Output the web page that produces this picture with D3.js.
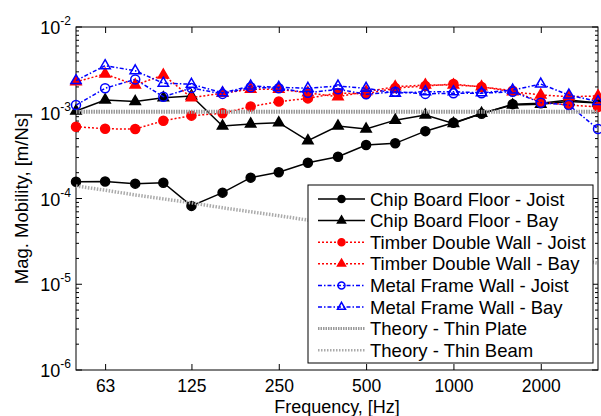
<!DOCTYPE html>
<html>
<head>
<meta charset="utf-8">
<script src="https://cdn.jsdelivr.net/npm/d3@7"></script>
<style>
  body { margin: 0; background: #fff; }
  text { font-family: "Liberation Sans", Arial, sans-serif; fill: #000; }
</style>
</head>
<body>
<div id="chart"></div>
<script>
// 1/3 octave band centre frequencies, Hz
const freqs = [50, 63, 80, 100, 125, 160, 200, 250, 315, 400, 500, 630, 800, 1000, 1250, 1600, 2000, 2500, 3150];

// mobility magnitudes, m/Ns
const chipJoist   = [1.57e-4, 1.58e-4, 1.49e-4, 1.53e-4, 8.2e-5, 1.17e-4, 1.75e-4, 2.02e-4, 2.61e-4, 3.07e-4, 4.2e-4, 4.4e-4, 6.1e-4, 7.65e-4, 9.75e-4, 1.26e-3, 1.29e-3, 1.41e-3, 1.30e-3];
const chipBay     = [1.05e-3, 1.41e-3, 1.35e-3, 1.50e-3, 1.57e-3, 7.0e-4, 7.4e-4, 7.65e-4, 4.72e-4, 7.0e-4, 6.46e-4, 8.2e-4, 9.4e-4, 7.5e-4, 9.86e-4, 1.23e-3, 1.26e-3, 1.35e-3, 1.30e-3];
const timberJoist = [6.88e-4, 6.5e-4, 6.46e-4, 8.07e-4, 9.25e-4, 9.86e-4, 1.18e-3, 1.35e-3, 1.47e-3, 1.70e-3, 1.66e-3, 1.94e-3, 2.05e-3, 2.16e-3, 2.0e-3, 1.81e-3, 1.33e-3, 1.23e-3, 1.17e-3];
const timberBay   = [2.30e-3, 2.83e-3, 2.11e-3, 2.75e-3, 1.50e-3, 1.69e-3, 1.88e-3, 1.88e-3, 1.71e-3, 1.54e-3, 1.76e-3, 2.01e-3, 2.11e-3, 2.11e-3, 2.01e-3, 1.76e-3, 1.61e-3, 1.54e-3, 1.57e-3];
const metalJoist  = [1.23e-3, 1.93e-3, 2.45e-3, 1.54e-3, 1.94e-3, 1.66e-3, 1.98e-3, 1.93e-3, 1.71e-3, 1.88e-3, 1.64e-3, 1.76e-3, 1.66e-3, 1.69e-3, 1.69e-3, 1.76e-3, 1.31e-3, 1.23e-3, 6.46e-4];
const metalBay    = [2.37e-3, 3.54e-3, 3.09e-3, 2.21e-3, 2.15e-3, 1.71e-3, 2.05e-3, 1.98e-3, 1.93e-3, 2.05e-3, 1.93e-3, 1.69e-3, 1.76e-3, 1.76e-3, 1.71e-3, 1.84e-3, 2.16e-3, 1.61e-3, 1.35e-3];
const thinPlate   = [1.03e-3, 1.03e-3, 1.03e-3, 1.03e-3, 1.03e-3, 1.03e-3, 1.03e-3, 1.03e-3, 1.03e-3, 1.03e-3, 1.03e-3, 1.03e-3, 1.03e-3, 1.03e-3, 1.03e-3, 1.03e-3, 1.03e-3, 1.03e-3, 1.03e-3];
const thinBeam    = [1.40e-4, 1.25e-4, 1.10e-4, 9.9e-5, 8.9e-5, 7.8e-5, 7.0e-5, 6.3e-5, 5.6e-5, 4.9e-5, 4.4e-5, 3.9e-5, 3.5e-5, 3.1e-5, 2.8e-5, 2.5e-5, 2.2e-5, 2.0e-5, 1.76e-5];

const seriesNames = ["Chip Board Floor - Joist", "Chip Board Floor - Bay", "Timber Double Wall - Joist",
  "Timber Double Wall - Bay", "Metal Frame Wall - Joist", "Metal Frame Wall - Bay",
  "Theory - Thin Plate", "Theory - Thin Beam"];

const xTicks = [63, 125, 250, 500, 1000, 2000];
const yExponents = [-6, -5, -4, -3, -2];

const width = 601, height = 416;
const margin = { top: 27, right: 3, bottom: 46, left: 76 };
const w = width - margin.left - margin.right;
const h = height - margin.top - margin.bottom;

const svg = d3.select("#chart").append("svg")
  .attr("width", width)
  .attr("height", height);
const g = svg.append("g")
  .attr("transform", "translate(" + margin.left + "," + margin.top + ")");

const x = d3.scaleLog().domain([50, 3150]).range([0, w]);
const y = d3.scaleLog().domain([1e-6, 1e-2]).range([h, 0]);

// series styles
const styles = [
  { data: chipJoist,   color: "#000", dash: null,      width: 1.5, marker: "circle",   fill: true },
  { data: chipBay,     color: "#000", dash: null,      width: 1.5, marker: "triangle", fill: true },
  { data: timberJoist, color: "#f00", dash: "2,2",     width: 1.5, marker: "circle",   fill: true },
  { data: timberBay,   color: "#f00", dash: "2,2",     width: 1.5, marker: "triangle", fill: true },
  { data: metalJoist,  color: "#00f", dash: "4,2,1.5,2", width: 1.5, marker: "circle", fill: false },
  { data: metalBay,    color: "#00f", dash: "4,2,1.5,2", width: 1.5, marker: "triangle", fill: false },
  { data: thinPlate,   color: "#999", dash: "1.5,1",   width: 4, marker: null },
  { data: thinBeam,    color: "#aaa", dash: "1.5,1.5", width: 3.5, marker: null }
];

// axes box with inward ticks
const tickLen = 6, minorLen = 3;
const xAxisB = d3.axisBottom(x).tickValues(xTicks).tickFormat(d3.format("d")).tickSizeInner(-tickLen).tickSizeOuter(0).tickPadding(10);
const xAxisT = d3.axisTop(x).tickValues(xTicks).tickFormat("").tickSizeInner(-tickLen).tickSizeOuter(0);

g.append("g").attr("class", "x-axis").attr("transform", "translate(0," + h + ")").call(xAxisB);
g.append("g").attr("transform", "translate(0,0)").call(xAxisT);

const minorY = [];
yExponents.slice(0, -1).forEach(e => {
  for (let k = 2; k <= 9; k++) minorY.push(k * Math.pow(10, e));
});
const majorY = yExponents.map(e => Math.pow(10, e));

[0, w].forEach((px, i) => {
  const dir = i === 0 ? 1 : -1;
  majorY.forEach(v => {
    g.append("line").attr("x1", px).attr("x2", px + dir * tickLen)
      .attr("y1", y(v)).attr("y2", y(v)).attr("stroke", "#000").attr("stroke-width", 1);
  });
  minorY.forEach(v => {
    g.append("line").attr("x1", px).attr("x2", px + dir * minorLen)
      .attr("y1", y(v)).attr("y2", y(v)).attr("stroke", "#000").attr("stroke-width", 1);
  });
});

g.selectAll(".domain").remove();
g.selectAll(".tick line").attr("stroke", "#000");
g.select(".x-axis").selectAll("text").style("font-size", "17.5px").attr("fill", "#000");

g.append("rect").attr("width", w).attr("height", h)
  .attr("fill", "none").attr("stroke", "#000").attr("stroke-width", 1);

// y tick labels as 10^n
yExponents.forEach(e => {
  const t = g.append("text")
    .attr("x", -5)
    .attr("y", y(Math.pow(10, e)) + 7)
    .attr("text-anchor", "end")
    .style("font-size", "18px");
  t.append("tspan").text("10");
  t.append("tspan").attr("dy", -9).style("font-size", "12px").text(e);
});

// axis titles
svg.append("text")
  .attr("transform", "translate(" + 28 + "," + (margin.top + h / 2) + ") rotate(-90)")
  .attr("text-anchor", "middle")
  .style("font-size", "18.5px")
  .text("Mag. Mobility, [m/Ns]");
svg.append("text")
  .attr("x", margin.left + w / 2)
  .attr("y", 413)
  .attr("text-anchor", "middle")
  .style("font-size", "18px")
  .text("Frequency, [Hz]");

function drawMarker(sel, s, cx, cy, r) {
  if (s.marker === "circle") {
    sel.append("circle").attr("cx", cx).attr("cy", cy).attr("r", r)
      .attr("fill", s.fill ? s.color : "none")
      .attr("stroke", s.color).attr("stroke-width", 1.5);
  } else if (s.marker === "triangle") {
    const side = r * 2.3;
    sel.append("path")
      .attr("d", d3.symbol().type(d3.symbolTriangle).size(0.433 * side * side)())
      .attr("transform", "translate(" + cx + "," + cy + ")")
      .attr("fill", s.fill ? s.color : "none")
      .attr("stroke", s.color).attr("stroke-width", 1.5);
  }
}

const line = d3.line().x((d, i) => x(freqs[i])).y(d => y(d));

styles.forEach(s => {
  const sg = g.append("g");
  sg.append("path")
    .attr("d", line(s.data))
    .attr("fill", "none")
    .attr("stroke", s.color)
    .attr("stroke-width", s.width)
    .attr("stroke-dasharray", s.dash);
  if (s.marker) {
    s.data.forEach((v, i) => drawMarker(sg, s, x(freqs[i]), y(v), 4.5));
  }
});

// legend
const lg = svg.append("g").attr("transform", "translate(308,185)");
lg.append("rect").attr("width", 285).attr("height", 178)
  .attr("fill", "#fff").attr("stroke", "#000").attr("stroke-width", 1);
seriesNames.forEach((name, i) => {
  const s = styles[i];
  const cy = 14 + i * 21.6;
  lg.append("line").attr("x1", 10).attr("x2", 57).attr("y1", cy).attr("y2", cy)
    .attr("stroke", s.color).attr("stroke-width", s.marker ? 1.5 : s.width - 1)
    .attr("stroke-dasharray", s.dash);
  if (s.marker) drawMarker(lg, s, 33.5, cy, 3.5);
  lg.append("text").attr("x", 62).attr("y", cy + 6.5)
    .style("font-size", "18.5px").text(name);
});
</script>
</body>
</html>
